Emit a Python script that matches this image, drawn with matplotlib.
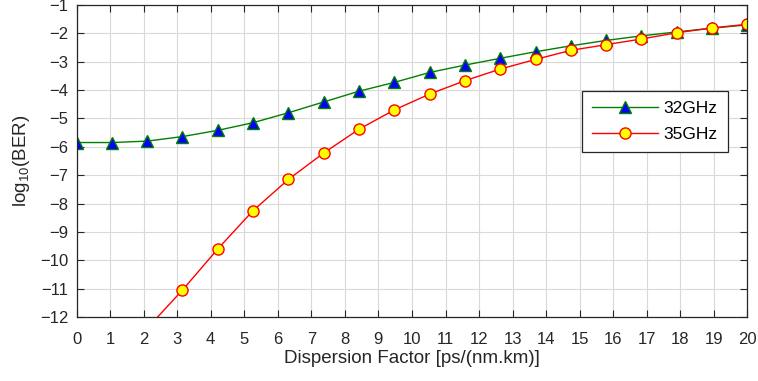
import numpy as np
import matplotlib
matplotlib.use("Agg")
import matplotlib.pyplot as plt

plt.rcParams['font.family'] = ['Liberation Sans', 'DejaVu Sans']
plt.rcParams['mathtext.default'] = 'regular'

# dispersion factor sweep, ps/(nm.km)
disp = [0, 1.053, 2.105, 3.158, 4.211, 5.263, 6.316, 7.368, 8.421, 9.474,
        10.526, 11.579, 12.632, 13.684, 14.737, 15.789, 16.842, 17.895, 18.947, 20]

# log10(BER) for each symbol rate
ber_32 = [-5.85, -5.85, -5.80, -5.64, -5.42, -5.15, -4.80, -4.42, -4.04, -3.73,
          -3.38, -3.12, -2.88, -2.65, -2.44, -2.25, -2.09, -1.95, -1.82, -1.70]
ber_35 = [-16.0, -14.2, -12.4, -11.05, -9.60, -8.25, -7.15, -6.22, -5.38, -4.70,
          -4.14, -3.67, -3.26, -2.92, -2.60, -2.40, -2.20, -1.98, -1.81, -1.68]

xticks = list(range(0, 21))
yticks = list(range(-12, 0))

fig = plt.figure(figsize=(7.58, 3.81), dpi=100)
ax = fig.add_axes([0.101, 0.168, 0.885, 0.819])

ax.plot(disp, ber_32, color='#008000', lw=1.0, marker='^', ms=8.5,
        mfc='#0000ff', mec='#008000', mew=1.0, label='32GHz')
ax.plot(disp, ber_35, color='#ff0000', lw=1.0, marker='o', ms=8,
        mfc='#ffff00', mec='#ff0000', mew=1.0, label='35GHz')

ax.set_xlim(0, 20)
ax.set_ylim(-12, -1)
ax.set_xticks(xticks)
ax.set_yticks(yticks)
ax.grid(True, color='#d9d9d9', lw=0.8)
ax.set_axisbelow(True)
ax.tick_params(direction='in', top=True, right=True, length=5, width=0.8,
               labelsize=12, colors='#262626')
ax.tick_params(axis='x', pad=11)
ax.tick_params(axis='y', pad=6)
for sp in ax.spines.values():
  sp.set_color('#262626')
  sp.set_linewidth(0.9)

ax.set_xlabel('Dispersion Factor [ps/(nm.km)]', fontsize=13.5, color='#262626', labelpad=2)
ax.set_ylabel('log$_{10}$(BER)', fontsize=13.5, color='#262626', labelpad=6)

leg = ax.legend(loc='upper left', bbox_to_anchor=(0.753, 0.725), borderaxespad=0,
                fontsize=12.5, handlelength=3.8, handletextpad=0.3,
                labelspacing=0.6, borderpad=0.6, fancybox=False, framealpha=1)
leg.get_frame().set_edgecolor('#262626')
leg.get_frame().set_linewidth(0.9)

fig.savefig('out.png', dpi=100)
